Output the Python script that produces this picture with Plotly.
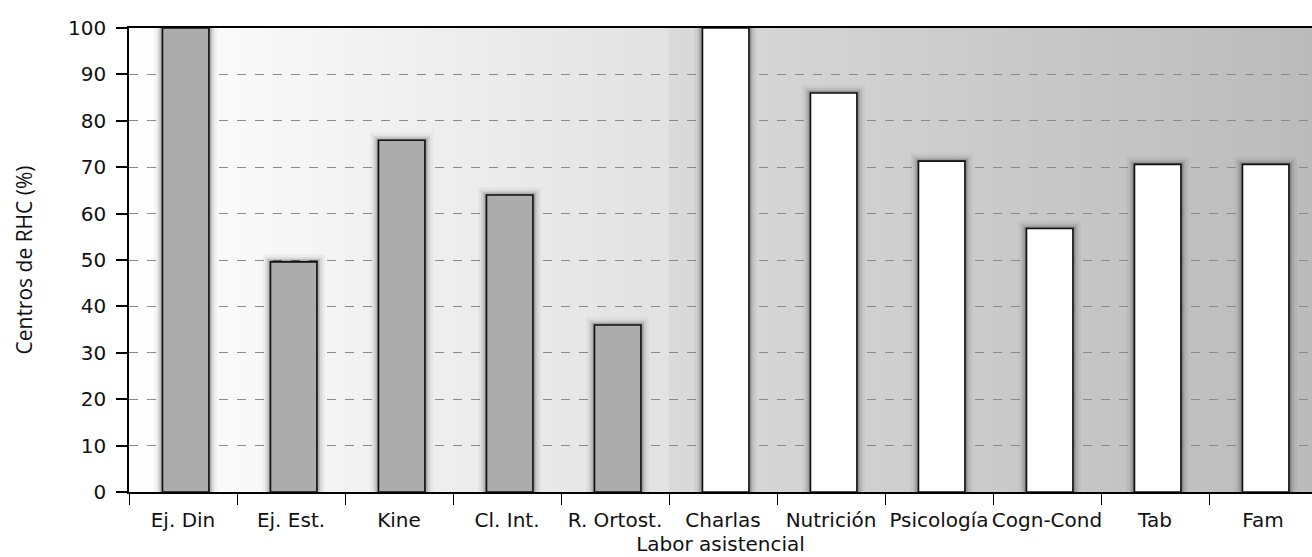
import plotly.graph_objects as go

categories = ["Ej. Din", "Ej. Est.", "Kine", "Cl. Int.", "R. Ortost.", "Charlas",
              "Nutrición", "Psicología", "Cogn-Cond", "Tab", "Fam"]
values = [100, 49.6, 75.8, 64.0, 36.0, 100, 86.0, 71.3, 56.8, 70.6, 70.6]
bar_colors = ["#acacac"] * 5 + ["#ffffff"] * 6
y_ticks = list(range(0, 101, 10))

W, H = 1312, 557
L, R, T, B = 129, 0, 28, 65
x_end = -0.5 + (W - L - R) / 108.0
BW = 0.43
SHIFT = 0.025

fig = go.Figure()

# soft shadow layers around bars
for w, a, dy in [(0.58, 0.04, 1.6), (0.53, 0.07, 1.0), (0.49, 0.12, 0.6), (0.46, 0.2, 0.3)]:
    fig.add_trace(go.Bar(
        x=categories, y=[v + dy for v in values], width=w, offset=-w / 2 + SHIFT,
        marker=dict(color=f"rgba(0,0,0,{a})", line=dict(width=0)),
        hoverinfo="skip", showlegend=False))

fig.add_trace(go.Bar(
    x=categories, y=values, width=BW, offset=-BW / 2 + SHIFT,
    marker=dict(color=bar_colors, line=dict(color="#111111", width=1.6)),
    showlegend=False))

# background gradient (vertical strips) under the gridlines
shapes = []
n = 160
split = 5.0 / (x_end + 0.5)  # boundary between R. Ortost. and Charlas in paper coords
for i in range(n):
    x0 = i / n
    x1 = (i + 1) / n + 0.001
    xm = (x0 + x1) / 2
    if xm < split:
        t = xm / split
        g = 255 - t * (255 - 226)
    else:
        t = (xm - split) / (1 - split)
        g = 218 - t * (218 - 187)
    g = int(round(g))
    shapes.append(dict(type="rect", xref="paper", yref="paper", x0=x0, x1=x1, y0=0, y1=1,
                       fillcolor=f"rgb({g},{g},{g})", line=dict(width=0), layer="below"))

fig.update_layout(
    width=W, height=H,
    margin=dict(l=L, r=R, t=T, b=B),
    barmode="overlay",
    paper_bgcolor="white",
    plot_bgcolor="rgba(0,0,0,0)",
    shapes=shapes,
    font=dict(family="DejaVu Sans", size=20, color="#111111"),
    xaxis=dict(
        type="category", range=[-0.5, x_end], tickson="boundaries",
        ticks="outside", ticklen=11, tickcolor="black", tickwidth=1,
        showline=True, linecolor="black", linewidth=1.5, mirror=True,
        showgrid=False, tickangle=0, automargin=False, ticklabelstandoff=9,
        tickfont=dict(family="DejaVu Sans", size=20),
        title=dict(text="Labor asistencial", font=dict(family="DejaVu Sans", size=20), standoff=0),
    ),
    yaxis=dict(
        range=[0, 100], tickvals=y_ticks, automargin=False, ticklabelstandoff=6,
        ticks="outside", ticklen=11, tickcolor="black", tickwidth=1.5,
        showline=True, linecolor="black", linewidth=1.5,
        showgrid=True, gridcolor="#8a8a8a", griddash="dash", gridwidth=1,
        zeroline=False,
        tickfont=dict(family="DejaVu Sans", size=20),
        title=dict(text="Centros de RHC (%)", font=dict(family="Open Sans", size=21), standoff=30),
    ),
)

fig.write_html("out.html", config={"displayModeBar": False},
               post_script="document.body.style.margin='0';document.body.style.overflow='hidden';")
